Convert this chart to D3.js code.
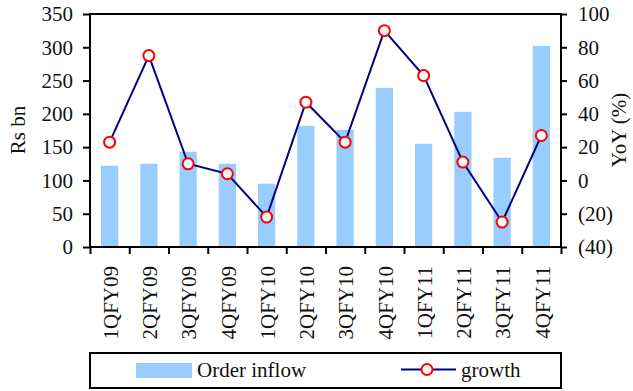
<!DOCTYPE html>
<html>
<head>
<meta charset="utf-8">
<script src="https://cdn.jsdelivr.net/npm/d3@7/dist/d3.min.js"></script>
<style>
  html, body { margin: 0; padding: 0; background: #fff; }
</style>
</head>
<body>
<svg id="chart" width="633" height="391"></svg>
<script>
// Quarterly order inflow (Rs bn) and YoY growth (%)
const quarters = ["1QFY09","2QFY09","3QFY09","4QFY09","1QFY10","2QFY10","3QFY10","4QFY10","1QFY11","2QFY11","3QFY11","4QFY11"];
const orderInflow = [122, 125, 143, 125, 95, 182, 176, 239, 155, 203, 134, 302];
const growth = [23, 75, 10, 4, -22, 47, 23, 90, 63, 11, -25, 27];
const leftTicks = [0, 50, 100, 150, 200, 250, 300, 350];
const rightTicks = [-40, -20, 0, 20, 40, 60, 80, 100];

const svg = d3.select("#chart");
const m = { left: 90, right: 561, top: 14, bottom: 247 };
const fontSize = 21;
const fontFamily = "'Liberation Serif', 'DejaVu Serif', serif";

const x = d3.scaleBand().domain(quarters).range([m.left, m.right]).paddingInner(0).paddingOuter(0);
const xEdge = d3.scaleLinear().domain([0, quarters.length]).range([m.left, m.right]);
const yL = d3.scaleLinear().domain([0, 350]).range([m.bottom, m.top]);
const yR = d3.scaleLinear().domain([-40, 100]).range([m.bottom, m.top]);

function font(sel) {
  sel.style("font-family", fontFamily).style("font-size", fontSize + "px").attr("fill", "#111");
}

// Bars
const barW = x.bandwidth() * 0.44;
svg.append("g").selectAll("rect").data(quarters).join("rect")
  .attr("x", (d) => x(d) + x.bandwidth() / 2 - barW / 2)
  .attr("width", barW)
  .attr("y", (d, i) => yL(orderInflow[i]))
  .attr("height", (d, i) => yL(0) - yL(orderInflow[i]))
  .attr("fill", "#99ccff");

// Growth line
const line = d3.line()
  .x((d, i) => x(quarters[i]) + x.bandwidth() / 2)
  .y((d) => yR(d));
svg.append("path").datum(growth)
  .attr("d", line)
  .attr("fill", "none")
  .attr("stroke", "#000080")
  .attr("stroke-width", 2);
svg.append("g").selectAll("circle").data(growth).join("circle")
  .attr("cx", (d, i) => x(quarters[i]) + x.bandwidth() / 2)
  .attr("cy", (d) => yR(d))
  .attr("r", 5.5)
  .attr("fill", "#fff")
  .attr("stroke", "#ff0000")
  .attr("stroke-width", 2);

// Frame
svg.append("rect")
  .attr("x", m.left).attr("y", m.top)
  .attr("width", m.right - m.left).attr("height", m.bottom - m.top)
  .attr("fill", "none").attr("stroke", "#000").attr("stroke-width", 2);

function styleAxis(g) {
  g.attr("font-family", null).attr("font-size", null);
  g.select(".domain").remove();
  g.selectAll(".tick line").attr("stroke", "#000").attr("stroke-width", 2);
  g.selectAll(".tick text").call(font);
}

// Left axis
svg.append("g").attr("transform", `translate(${m.left},0)`)
  .call(d3.axisLeft(yL).tickValues(leftTicks).tickSize(7).tickPadding(10))
  .call(styleAxis);

// Right axis
svg.append("g").attr("transform", `translate(${m.right},0)`)
  .call(d3.axisRight(yR).tickValues(rightTicks).tickSize(6).tickPadding(11)
    .tickFormat((v) => v < 0 ? `(${-v})` : `${v}`))
  .call(styleAxis);

// Category boundary ticks
svg.append("g").attr("transform", `translate(0,${m.bottom})`)
  .call(d3.axisBottom(xEdge).tickValues(d3.range(quarters.length + 1)).tickSize(7).tickFormat(""))
  .call(styleAxis);

// Category labels
svg.append("g").selectAll("text").data(quarters).join("text")
  .attr("transform", (d) => `translate(${x(d) + x.bandwidth() / 2 + 1},266) rotate(-90)`)
  .attr("text-anchor", "end")
  .attr("dy", "0.35em")
  .call(font)
  .text((d) => d);

// Axis titles
svg.append("text")
  .attr("transform", "translate(18,130) rotate(-90)")
  .attr("text-anchor", "middle").attr("dy", "0.35em")
  .call(font)
  .text("Rs bn");
svg.append("text")
  .attr("transform", "translate(619,130) rotate(-90)")
  .attr("text-anchor", "middle").attr("dy", "0.35em")
  .call(font)
  .text("YoY (%)");

// Legend
const lg = svg.append("g");
lg.append("rect").attr("x", 90).attr("y", 353).attr("width", 471).attr("height", 35)
  .attr("fill", "#fff").attr("stroke", "#000").attr("stroke-width", 2);
lg.append("rect").attr("x", 136).attr("y", 363).attr("width", 56).attr("height", 15).attr("fill", "#99ccff");
lg.append("text").attr("x", 197).attr("y", 377).call(font).text("Order inflow");
lg.append("line").attr("x1", 401).attr("x2", 456).attr("y1", 369.5).attr("y2", 369.5)
  .attr("stroke", "#000080").attr("stroke-width", 2);
lg.append("circle").attr("cx", 427).attr("cy", 369.5).attr("r", 5.5)
  .attr("fill", "#fff").attr("stroke", "#ff0000").attr("stroke-width", 2);
lg.append("text").attr("x", 461).attr("y", 377).call(font).text("growth");
</script>
</body>
</html>
